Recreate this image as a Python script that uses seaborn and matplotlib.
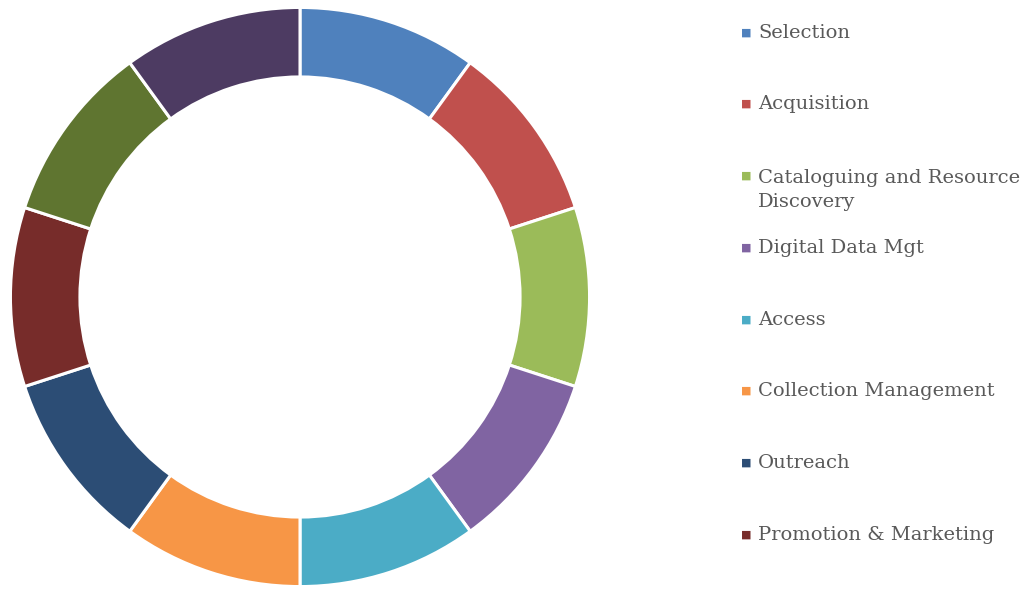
import matplotlib
matplotlib.use("Agg")
import matplotlib.pyplot as plt
import seaborn as sns

# --- Style ---
sns.set_style("white")
plt.rcParams["font.family"] = ["DejaVu Serif"]

# --- Data ---
categories = ["Selection", "Acquisition", "Cataloguing and Resource\nDiscovery",
              "Digital Data Mgt", "Access", "Collection Management", "Outreach",
              "Promotion & Marketing", "Category 9", "Category 10"]
values = [1, 1, 1, 1, 1, 1, 1, 1, 1, 1]
colors = ["#4F81BD", "#C0504D", "#9BBB59", "#8064A2", "#4BACC6",
          "#F79646", "#2C4D75", "#772C2A", "#5F7530", "#4D3B62"]
palette = sns.color_palette(colors)

fig = plt.figure(figsize=(10.32, 5.9), dpi=100)
ax = fig.add_axes([9 / 1032, 2 / 590, 582 / 1032, 582 / 590])
ax.pie(values, colors=palette, startangle=90, counterclock=False, radius=1.0,
       wedgeprops=dict(width=0.24, edgecolor="white", linewidth=2.2))
ax.set_xlim(-1.005, 1.005)
ax.set_ylim(-1.005, 1.005)
ax.set_aspect("equal")
ax.axis("off")

# --- Legend (only the first eight entries fit) ---
leg_y = [33, 104, 176, 248, 320, 391, 463, 535]
for lab, col, y in zip(categories[:8], palette[:8], leg_y):
    fy = 1 - y / 590
    fig.text(746 / 1032, fy, "■", color=col, fontsize=8, ha="center", va="center",
             family=["DejaVu Sans"])
    if "\n" in lab:
        fig.text(758 / 1032, 1 - (y + 14) / 590, lab, color="#595959",
                 fontsize=14, ha="left", va="center", linespacing=1.45)
    else:
        fig.text(758 / 1032, fy, lab, color="#595959", fontsize=14,
                 ha="left", va="center")

fig.savefig("out.png", dpi=100)
